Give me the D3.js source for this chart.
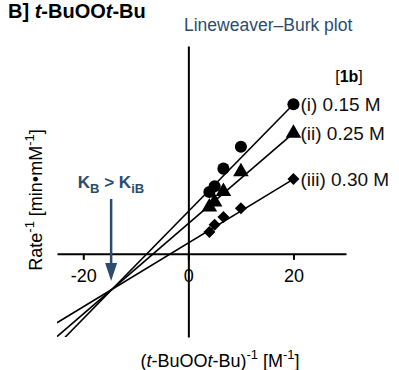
<!DOCTYPE html>
<html>
<head>
<meta charset="utf-8">
<script src="https://cdn.jsdelivr.net/npm/d3@7"></script>
<style>
  html, body { margin: 0; padding: 0; background: #fff; }
  svg { display: block; font-family: "Liberation Sans", Arial, sans-serif; }
</style>
</head>
<body>
<div id="chart"></div>
<script>
// inverse concentration of t-BuOOt-Bu [M^-1]
const invConc = [20, 10, 6.67, 5, 4];

// Rate^-1 for each fixed co-substrate concentration
const seriesNames = ["(i) 0.15 M", "(ii) 0.25 M", "(iii) 0.30 M"];
const seriesShapes = ["circle", "triangle", "diamond"];
const rateCircle   = [1.44, 1.03, 0.82, 0.65, 0.595];
const rateTriangle = [1.16, 0.79, 0.60, 0.50, 0.45];
const rateDiamond  = [0.72, 0.44, 0.355, 0.28, 0.21];

// fitted lines (intercept, slope)
const fitIntercept = [0.408, 0.291, 0.105];
const fitSlope     = [0.0516, 0.0435, 0.0307];

const xTicks = [-20, 0, 20];

const W = 399, H = 370;
const navy = "#2b4c6f";

const svg = d3.select("#chart").append("svg")
  .attr("width", W)
  .attr("height", H);

const x = d3.scaleLinear().domain([-25, 30]).range([57, 346]);
const y = d3.scaleLinear().domain([-0.8, 2.0]).range([337, 46]);

const rates = [rateCircle, rateTriangle, rateDiamond];

// ---- clip for fit lines ----
svg.append("clipPath").attr("id", "plotClip")
  .append("rect")
  .attr("x", x(-25)).attr("y", y(2.0))
  .attr("width", x(30) - x(-25)).attr("height", y(-0.8) - y(2.0));

// ---- axes ----
const xAxis = d3.axisBottom(x)
  .tickValues(xTicks)
  .tickFormat(d => String(d))
  .tickSize(6)
  .tickSizeOuter(0)
  .tickPadding(9);

const gx = svg.append("g")
  .attr("transform", `translate(0,${y(0)})`)
  .call(xAxis);
gx.select(".domain").attr("stroke", "#000").attr("stroke-width", 2);
gx.selectAll(".tick line").attr("stroke", "#000").attr("stroke-width", 2);
gx.selectAll(".tick text")
  .attr("fill", "#000")
  .attr("font-size", 18)
  .attr("font-family", "'Liberation Sans', Arial, sans-serif");

const yAxis = d3.axisLeft(y).tickValues([]).tickSizeOuter(0);
const gy = svg.append("g")
  .attr("transform", `translate(${x(0)},0)`)
  .call(yAxis);
gy.select(".domain").attr("stroke", "#000").attr("stroke-width", 2);

// ---- fit lines ----
const line = d3.line().x(d => x(d[0])).y(d => y(d[1]));
svg.append("g").attr("clip-path", "url(#plotClip)")
  .selectAll("path.fit")
  .data(fitSlope.map((s, i) => [[-25, fitIntercept[i] - 25 * s], [20, fitIntercept[i] + 20 * s]]))
  .enter()
  .append("path")
  .attr("class", "fit")
  .attr("d", line)
  .attr("fill", "none")
  .attr("stroke", "#000")
  .attr("stroke-width", 1.6);

// ---- markers ----
const symbols = {
  circle:   d3.symbol().type(d3.symbolCircle).size(115),
  triangle: d3.symbol().type(d3.symbolTriangle).size(105),
  diamond:  d3.symbol().type(d3.symbolSquare).size(72)
};

rates.forEach((vals, i) => {
  const shape = seriesShapes[i];
  svg.append("g")
    .selectAll("path.pt")
    .data(vals.map((v, j) => [invConc[j], v]))
    .enter()
    .append("path")
    .attr("class", "pt")
    .attr("d", symbols[shape]())
    .attr("transform", d => `translate(${x(d[0])},${y(d[1])})` + (shape === "diamond" ? " rotate(45)" : ""))
    .attr("fill", "#000");

  // series label next to the x = 20 point
  svg.append("text")
    .attr("x", x(invConc[0]) + 7)
    .attr("y", y(vals[0]))
    .attr("dy", "0.36em")
    .attr("font-size", 19)
    .attr("fill", "#111")
    .text(seriesNames[i]);
});

// ---- titles ----
const title = svg.append("text")
  .attr("x", 8).attr("y", 18)
  .attr("font-size", 20)
  .attr("font-weight", "bold")
  .attr("fill", "#000");
title.append("tspan").text("B] ");
title.append("tspan").attr("font-style", "italic").text("t");
title.append("tspan").text("-BuOO");
title.append("tspan").attr("font-style", "italic").text("t");
title.append("tspan").text("-Bu");

svg.append("text")
  .attr("x", 184).attr("y", 31)
  .attr("font-size", 17.5)
  .attr("fill", navy)
  .text("Lineweaver\u2013Burk plot");

const tag = svg.append("text")
  .attr("x", 349).attr("y", 82)
  .attr("text-anchor", "middle")
  .attr("font-size", 16)
  .attr("fill", "#000");
tag.append("tspan").text("[");
tag.append("tspan").attr("font-weight", "bold").text("1b");
tag.append("tspan").text("]");

// ---- y axis title ----
const yt = svg.append("text")
  .attr("transform", "translate(42,200) rotate(-90)")
  .attr("text-anchor", "middle")
  .attr("font-size", 18)
  .attr("fill", "#000");
yt.append("tspan").text("Rate");
yt.append("tspan").attr("font-size", 13).attr("dy", -8).text("-1");
yt.append("tspan").attr("dy", 8).text(" [min\u2022mM");
yt.append("tspan").attr("font-size", 13).attr("dy", -8).text("-1");
yt.append("tspan").attr("dy", 8).text("]");

// ---- x axis title ----
const xt = svg.append("text")
  .attr("x", 220).attr("y", 367)
  .attr("text-anchor", "middle")
  .attr("font-size", 18)
  .attr("fill", "#000");
xt.append("tspan").text("(");
xt.append("tspan").attr("font-style", "italic").text("t");
xt.append("tspan").text("-BuOO");
xt.append("tspan").attr("font-style", "italic").text("t");
xt.append("tspan").text("-Bu)");
xt.append("tspan").attr("font-size", 13).attr("dy", -8).text("-1");
xt.append("tspan").attr("dy", 8).text(" [M");
xt.append("tspan").attr("font-size", 13).attr("dy", -8).text("-1");
xt.append("tspan").attr("dy", 8).text("]");

// ---- K_B > K_iB annotation with arrow ----
const ann = svg.append("text")
  .attr("x", 111).attr("y", 188)
  .attr("text-anchor", "middle")
  .attr("font-size", 17)
  .attr("font-weight", "bold")
  .attr("fill", navy);
ann.append("tspan").text("K");
ann.append("tspan").attr("font-size", 13).attr("dy", 5).text("B");
ann.append("tspan").attr("dy", -5).text(" > K");
ann.append("tspan").attr("font-size", 13).attr("dy", 5).text("iB");

const ax = x(-14.7);
svg.append("line")
  .attr("x1", ax).attr("x2", ax)
  .attr("y1", 199).attr("y2", 266)
  .attr("stroke", navy)
  .attr("stroke-width", 2.5);
svg.append("path")
  .attr("d", `M${ax - 6},263 L${ax + 6},263 L${ax},281 Z`)
  .attr("fill", navy);
</script>
</body>
</html>
